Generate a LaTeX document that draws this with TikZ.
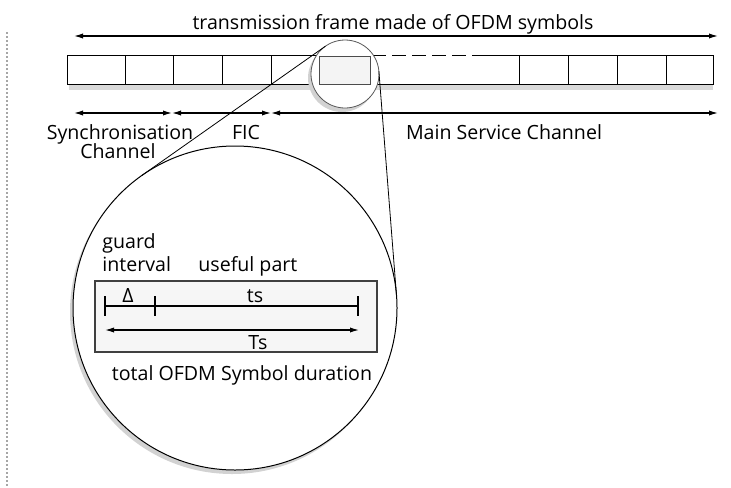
\documentclass[tikz,border=0pt]{standalone}
\usepackage{fontspec}
\setmainfont{Open Sans}
\usetikzlibrary{arrows.meta,calc}

\begin{document}
\begin{tikzpicture}[x=0.5pt,y=-0.5pt,
  lbl/.style={font=\fontsize{9.8}{12}\selectfont, inner sep=0pt, anchor=base},
  span/.style={{Latex[length=4.5pt,width=2.6pt]}-{Latex[length=4.5pt,width=2.6pt]}, line width=0.6pt},
  cell/.style={line width=0.5pt},
  lensring/.style={circle, inner sep=0pt, outer sep=0pt, fill=white}]
\useasboundingbox (0,0) rectangle (731,487);

% page edge
\draw[gray!70, densely dotted, line width=1pt] (7,32) -- (7,487);

% whole frame
\coordinate (fA) at (74,36);
\coordinate (fB) at (718,36);
\draw[span] (fA) -- (fB);
\node[lbl] (ttl) at (393,29) {transmission frame made of OFDM symbols};

% row of symbols
\fill[gray!30] (69,85) rectangle (713,90);
\draw[cell] (318,55) -- (67,55) -- (67,84) -- (318,84);
\foreach \x in {125,173,222,271} \draw[cell] (\x,55) -- (\x,84);
\draw[cell, dash pattern=on 7pt off 3pt] (372,55) -- (480,55);
\draw[cell] (480,55) -- (713,55) -- (713,84) -- (372,84);
\foreach \x in {519,568,617,666} \draw[cell] (\x,55) -- (\x,84);

% channels
\coordinate (sA) at (74,113);
\coordinate (sB) at (172,113);
\coordinate (sC) at (271,113);
\coordinate (sD) at (718,113);
\draw[span] (sA) -- (sB);
\draw[span] (sB) -- (sC);
\draw[span] (sC) -- (sD);
\node[lbl] (syn) at (120,139) {Synchronisation};
\node[lbl] (chn) at (118,158) {Channel};
\node[lbl] (fic) at (246,139) {FIC};
\node[lbl] (msc) at (504,139) {Main Service Channel};

% small lens over one symbol
\fill[gray!35] (342,78) circle (17pt);
\node[lensring, draw=black!65, line width=0.4pt, minimum size=34pt] (lens) at (345,74) {};
\draw[fill=gray!9, draw=black!70, line width=0.5pt] (319,56) rectangle (370,84);

% enlarged view
\fill[gray!35] (232,312) circle (81pt);
\node[lensring, draw, line width=0.5pt, minimum size=162pt] (view) at (235,308) {};
\coordinate (hc) at ($(lens.center)!-34/128!(view.center)$);
\draw[line width=0.4pt] (tangent cs:node=lens,point={(hc)},solution=1)
  -- (tangent cs:node=view,point={(hc)},solution=1);
\draw[line width=0.4pt] (tangent cs:node=lens,point={(hc)},solution=2)
  -- (tangent cs:node=view,point={(hc)},solution=2);

% one symbol
\draw[fill=gray!7, draw=black!75, line width=0.6pt] (95,281) rectangle (377,352);
\coordinate (gA) at (105,306);
\coordinate (gC) at (358,306);
\draw[line width=0.55pt] (gA) -- (gC);
\foreach \x in {105,155,358} \draw[line width=0.55pt] (\x,296) -- (\x,316);
\coordinate (tA) at (105,330);
\coordinate (tB) at (359,330);
\draw[span] (tA) -- (tB);

\node[lbl, anchor=base west] (grd) at (102,248) {guard};
\node[lbl, anchor=base west] (itv) at (102,271) {interval};
\node[lbl, anchor=base west] (use) at (198,271) {useful part};
\node[lbl] (dlt) at (128,302) {Δ};
\node[lbl] (ts) at (255,302) {ts};
\node[lbl] (Ts) at (258,349) {Ts};
\node[lbl] (tot) at (242,380) {total OFDM Symbol duration};
\end{tikzpicture}
\end{document}
